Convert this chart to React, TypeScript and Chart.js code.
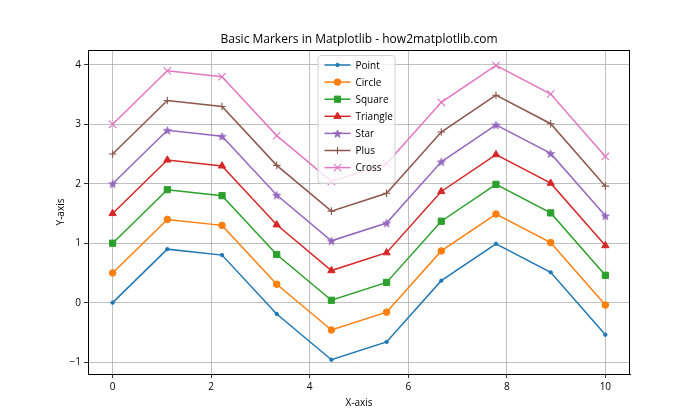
import React, { useEffect, useRef } from "react";
import { Chart, registerables } from "chart.js";

Chart.register(...registerables);

const xValues = [0, 1.11, 2.22, 3.33, 4.44, 5.56, 6.67, 7.78, 8.89, 10];
const pointSeries = [0, 0.9, 0.8, -0.19, -0.96, -0.66, 0.37, 0.99, 0.51, -0.54];
const circleSeries = [0.5, 1.4, 1.3, 0.31, -0.46, -0.16, 0.87, 1.49, 1.01, -0.04];
const squareSeries = [1, 1.9, 1.8, 0.81, 0.04, 0.34, 1.37, 1.99, 1.51, 0.46];
const triangleSeries = [1.5, 2.4, 2.3, 1.31, 0.54, 0.84, 1.87, 2.49, 2.01, 0.96];
const starSeries = [2, 2.9, 2.8, 1.81, 1.04, 1.34, 2.37, 2.99, 2.51, 1.46];
const plusSeries = [2.5, 3.4, 3.3, 2.31, 1.54, 1.84, 2.87, 3.49, 3.01, 1.96];
const crossSeries = [3, 3.9, 3.8, 2.81, 2.04, 2.34, 3.37, 3.99, 3.51, 2.46];

const seriesNames = ["Point", "Circle", "Square", "Triangle", "Star", "Plus", "Cross"];
const xTicks = [0, 2, 4, 6, 8, 10];
const yTicks = [-1, 0, 1, 2, 3, 4];

const TITLE = "Basic Markers in Matplotlib - how2matplotlib.com";
const X_LABEL = "X-axis";
const Y_LABEL = "Y-axis";
const FONT = "'Open Sans', 'Noto Sans', sans-serif";

const colors = ["#1f77b4", "#ff7f0e", "#2ca02c", "#d62728", "#9467bd", "#8c564b", "#e377c2"];

function makeStar(color: string, r: number): HTMLCanvasElement {
  const c = document.createElement("canvas");
  const s = Math.ceil(r * 2 + 2);
  c.width = s;
  c.height = s;
  const ctx = c.getContext("2d")!;
  const cx = s / 2, cy = s / 2 + 0.5;
  ctx.beginPath();
  for (let i = 0; i < 10; i++) {
    const rr = i % 2 === 0 ? r : r * 0.4;
    const a = -Math.PI / 2 + (i * Math.PI) / 5;
    const px = cx + rr * Math.cos(a);
    const py = cy + rr * Math.sin(a);
    if (i === 0) ctx.moveTo(px, py);
    else ctx.lineTo(px, py);
  }
  ctx.closePath();
  ctx.fillStyle = color;
  ctx.fill();
  ctx.strokeStyle = color;
  ctx.lineWidth = 0.8;
  ctx.stroke();
  return c;
}

function drawPointLocal(ctx: CanvasRenderingContext2D, opts: any, x: number, y: number) {
  const style = opts.pointStyle;
  const r = opts.radius;
  if (style instanceof HTMLCanvasElement) {
    ctx.drawImage(style, x - style.width / 2, y - style.height / 2);
    return;
  }
  ctx.beginPath();
  if (style === "circle") {
    ctx.arc(x, y, r, 0, Math.PI * 2);
    ctx.fill();
    ctx.stroke();
  } else if (style === "rect") {
    const s = r * Math.SQRT1_2;
    ctx.rect(x - s, y - s, 2 * s, 2 * s);
    ctx.fill();
    ctx.stroke();
  } else if (style === "triangle") {
    const h = (r * 3) / Math.sqrt(3);
    ctx.moveTo(x, y - r);
    ctx.lineTo(x + h / 2, y + r / 2);
    ctx.lineTo(x - h / 2, y + r / 2);
    ctx.closePath();
    ctx.fill();
    ctx.stroke();
  } else if (style === "cross") {
    ctx.moveTo(x - r, y);
    ctx.lineTo(x + r, y);
    ctx.moveTo(x, y - r);
    ctx.lineTo(x, y + r);
    ctx.stroke();
  } else if (style === "crossRot") {
    const d = r * Math.SQRT1_2;
    ctx.moveTo(x - d, y - d);
    ctx.lineTo(x + d, y + d);
    ctx.moveTo(x - d, y + d);
    ctx.lineTo(x + d, y - d);
    ctx.stroke();
  }
}

export default function App() {
  const ref = useRef<HTMLCanvasElement>(null);
  useEffect(() => {
    document.body.style.margin = "0";
    const star = makeStar(colors[4], 4.2);
    const styles: any[] = ["circle", "circle", "rect", "triangle", star, "cross", "crossRot"];
    const radii = [1.7, 3.3, 4.4, 4.2, 4.2, 3.8, 5.2];
    const bws = [1, 1, 1, 1, 1, 1.1, 1.1];
    const allSeries = [pointSeries, circleSeries, squareSeries, triangleSeries, starSeries, plusSeries, crossSeries];

    const datasets = allSeries.map((s, i) => ({
      label: seriesNames[i],
      data: s.map((y, j) => ({ x: xValues[j], y })),
      borderColor: colors[i],
      backgroundColor: colors[i],
      pointBackgroundColor: colors[i],
      pointBorderColor: colors[i],
      pointBorderWidth: bws[i],
      borderWidth: 1.5,
      pointStyle: styles[i],
      pointRadius: radii[i],
      pointHoverRadius: radii[i],
      tension: 0,
      order: 7 - i,
    }));

    const decor = {
      id: "decor",
      afterDraw(chart: any) {
        const ctx = chart.ctx;
        const a = chart.chartArea;
        ctx.save();
        ctx.strokeStyle = "#000";
        ctx.lineWidth = 1;
        ctx.strokeRect(a.left + 0.5, a.top + 0.5, a.right - a.left - 1, a.bottom - a.top);
        ctx.fillStyle = "#000";
        ctx.font = `12px ${FONT}`;
        ctx.textAlign = "center";
        ctx.textBaseline = "alphabetic";
        ctx.fillText(TITLE, (a.left + a.right) / 2, a.top - 7);
        ctx.font = `10px ${FONT}`;
        ctx.fillText(X_LABEL, (a.left + a.right) / 2, 406);
        ctx.save();
        ctx.translate(64, (a.top + a.bottom) / 2);
        ctx.rotate(-Math.PI / 2);
        ctx.fillText(Y_LABEL, 0, 0);
        ctx.restore();
        // legend
        const bw = 77, rowH = 17.1;
        const bx = (a.left + a.right) / 2 - bw / 2 - 3;
        const by = a.top + 5;
        const bh = rowH * 7 + 8;
        ctx.fillStyle = "rgba(255,255,255,0.8)";
        ctx.strokeStyle = "#d0d0d0";
        ctx.lineWidth = 1;
        ctx.beginPath();
        (ctx as any).roundRect(bx + 0.5, by + 0.5, bw, bh, 3);
        ctx.fill();
        ctx.stroke();
        ctx.font = `10px ${FONT}`;
        ctx.textAlign = "left";
        ctx.textBaseline = "middle";
        for (let i = 0; i < 7; i++) {
          const cy = by + 10 + i * rowH;
          ctx.strokeStyle = colors[i];
          ctx.lineWidth = 1.5;
          ctx.beginPath();
          ctx.moveTo(bx + 7, cy);
          ctx.lineTo(bx + 33, cy);
          ctx.stroke();
          ctx.fillStyle = colors[i];
          ctx.strokeStyle = colors[i];
          ctx.lineWidth = bws[i];
          drawPointLocal(ctx, { pointStyle: styles[i], radius: radii[i] }, bx + 20, cy);
          ctx.fillStyle = "#000";
          ctx.fillText(seriesNames[i], bx + 38, cy + 1);
        }
        ctx.restore();
      },
    };

    const chart = new Chart(ref.current!, {
      type: "line",
      data: { datasets },
      options: {
        animation: false,
        responsive: false,
        layout: { padding: { top: 50, right: 70, left: 0, bottom: 0 } },
        plugins: { legend: { display: false }, title: { display: false }, tooltip: { enabled: false } },
        scales: {
          x: {
            type: "linear",
            min: -0.5,
            max: 10.5,
            afterFit: (s: any) => { s.height = 46; },
            afterBuildTicks: (s: any) => { s.ticks = xTicks.map((v) => ({ value: v })); },
            grid: { color: "#b0b0b0", lineWidth: 0.8, tickLength: 4, tickColor: "#000", drawTicks: true },
            border: { color: "#000", width: 1 },
            ticks: { color: "#000", font: { size: 10, family: FONT }, padding: 3, callback: (v: any) => String(v) },
          },
          y: {
            type: "linear",
            min: -1.2,
            max: 4.25,
            afterFit: (s: any) => { s.width = 88; },
            afterBuildTicks: (s: any) => { s.ticks = yTicks.map((v) => ({ value: v })); },
            grid: { color: "#b0b0b0", lineWidth: 0.8, tickLength: 4, tickColor: "#000", drawTicks: true },
            border: { color: "#000", width: 1 },
            ticks: { color: "#000", font: { size: 10, family: FONT }, padding: 3, callback: (v: any) => (v < 0 ? "\u2212" + Math.abs(v) : String(v)) },
          },
        },
      },
      plugins: [decor],
    });
    return () => chart.destroy();
  }, []);
  return (
    <div style={{ width: 700, height: 420 }}>
      <canvas ref={ref} width={700} height={420} />
    </div>
  );
}
